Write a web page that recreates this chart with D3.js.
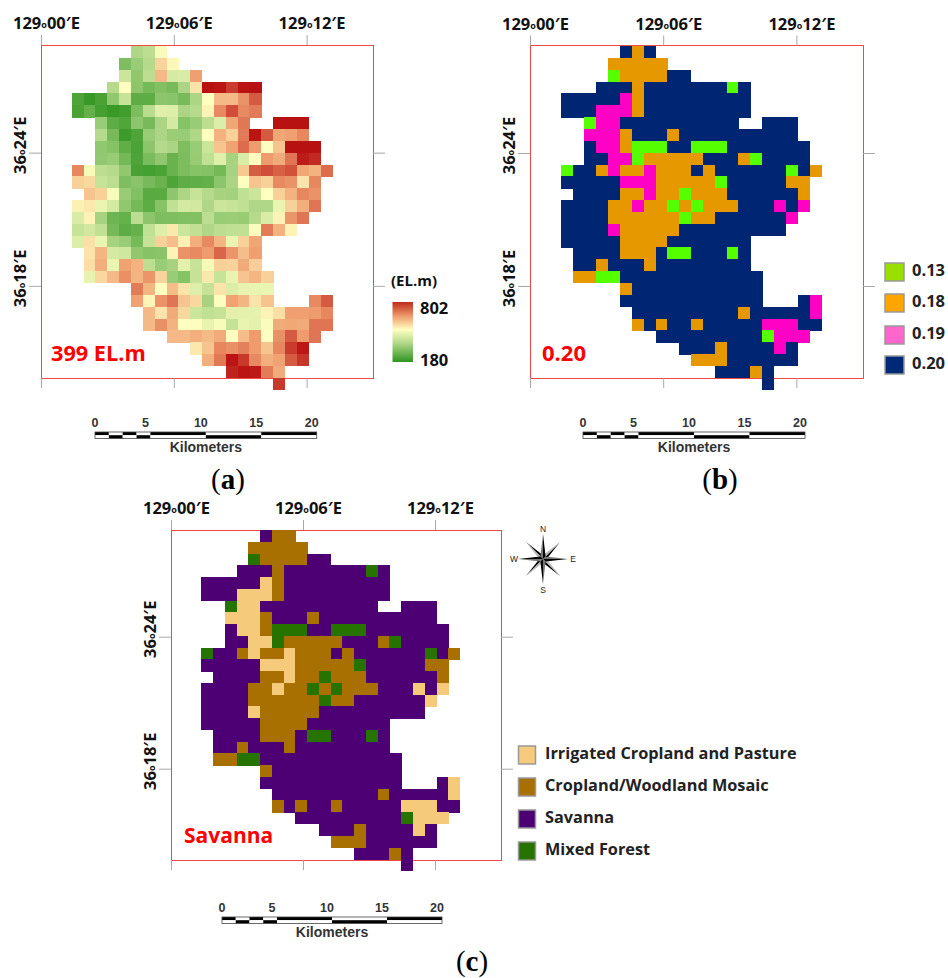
<!DOCTYPE html>
<html>
<head>
<meta charset="utf-8">
<script src="https://cdn.jsdelivr.net/npm/d3@7"></script>
<style>
  html, body { margin: 0; background: #fff; }
  svg { display: block; }
</style>
</head>
<body>
<div id="d3"></div>
<script>
const _ = null;
// elevation (m) per grid cell, 29 rows x 22 columns
const elevationRows = [
  [_,_,_,_,_,325,345,430],
  [_,_,_,_,270,300,335,495,450],
  [_,_,_,_,365,290,345,530,380,385,565],
  [_,_,_,335,440,285,260,275,262,320,475,800,795,730,795,800],
  [215,190,210,290,360,232,232,285,283,262,322,440,530,530,585,680],
  [210,240,205,190,200,268,340,395,390,320,335,455,600,700,600,625],
  [_,_,300,232,218,285,262,320,378,278,300,345,390,555,630,_,_,800,800,800],
  [_,_,335,262,195,215,300,322,302,300,325,440,540,500,625,795,680,555,565,605],
  [_,_,290,278,235,212,285,335,320,270,300,365,515,560,650,570,435,515,800,800,800],
  [_,_,292,300,258,215,265,290,245,268,298,350,395,315,385,440,570,550,635,780,760],
  [605,425,345,335,290,208,205,212,245,268,278,276,258,315,510,675,700,670,695,555,540,650],
  [500,490,360,345,270,283,262,245,215,232,235,240,285,320,440,515,500,600,585,475,605],
  [_,515,500,430,300,275,228,228,288,322,360,335,315,312,350,365,440,500,540,605,585],
  [460,470,410,378,290,260,232,278,350,378,375,325,365,360,350,325,325,410,500,545,635],
  [385,455,315,250,242,345,285,268,270,272,275,345,300,302,298,335,385,455,580,635],
  [360,375,350,260,232,243,350,390,470,365,352,325,345,350,350,432,625,540,455],
  [390,480,410,315,300,260,358,500,525,460,545,600,535,410,500,555],
  [_,475,535,378,372,290,278,283,455,585,600,570,660,580,525,565],
  [_,482,545,412,560,540,345,300,315,400,360,425,500,498,550,503],
  [_,405,490,530,590,535,580,497,300,278,358,470,360,405,515,535,500],
  [_,_,_,_,_,625,535,440,525,475,390,358,475,388,405,408,410],
  [_,_,_,_,_,560,452,585,635,515,490,315,435,560,535,475,515,_,_,_,600,680],
  [_,_,_,_,_,_,530,475,550,490,365,350,358,400,400,402,455,482,565,565,570,605],
  [_,_,_,_,_,_,530,590,540,440,435,405,430,358,408,400,432,550,552,550,635,635],
  [_,_,_,_,_,_,_,_,530,530,545,528,550,438,525,570,435,590,680,570,635],
  [_,_,_,_,_,_,_,_,_,_,470,515,605,590,615,570,515,605,730,790],
  [_,_,_,_,_,_,_,_,_,_,_,545,630,795,735,600,545,560,680,740],
  [_,_,_,_,_,_,_,_,_,_,_,_,_,770,795,785,625,550],
  [_,_,_,_,_,_,_,_,_,_,_,_,_,_,_,_,_,735]
];

// land cover per grid cell: F mixed forest, C cropland/woodland, I irrigated, S savanna
const coverRows = [
  ".....SCS..............",
  "....CCCCC.............",
  "....FCCCCSS...........",
  "...SSSCSSSSSSSFS......",
  "SSSSSICSSSSSSSSS......",
  "SSSIIICSSSSSSSSS......",
  "..FIISSSSSSSSSS..SSS..",
  "..IIICSSSCSSSSSSSSSS..",
  "..SIICFFFSSFFFSSSSSSS.",
  "..SSIIFCCCCCSSSCFSSSS.",
  "FSSCICCICCCSCSSSSSSFSC",
  "SSSSSIIICCCCCFSSSSSCC.",
  ".SSSSCCICCFCCCSSSSSSC.",
  "SSSSCCICCFCFCCCSSSISI.",
  "SSSSCCCCCCFCCSSSSSSI..",
  "SSSSICCCCCSSSSSSSSS...",
  "SSSSSCCCCSSSSSSS......",
  ".SSSSCCCSFFSSSFS......",
  ".SSCSSSCSSSSSSSS......",
  ".CCFFSSSSSSSSSSSS.....",
  ".....CSSSSSSSSSSS.....",
  ".....SSSSSSSSSSSS...SI",
  "......SSSSSSSSSCSSSSSI",
  "......CSCSSCSSSSSIIISS",
  "........SSSSSSSSSFIII.",
  "..........SSSCSSSSIS..",
  "...........CCCSSSSSS..",
  ".............SSSCS....",
  ".................S...."
];
// panel (c) differs from (b) only in the top row
const coverRowsC = [".....SCC.............."].concat(coverRows.slice(1));

const coverKeys = ["F", "C", "I", "S"];
const albedoColors = ["#55ff00", "#e69800", "#ff00c5", "#002673"];
const landuseColors = ["#267300", "#a87000", "#f5ca7a", "#4c0073"];

const albedoLegendKeys = ["0.13", "0.18", "0.19", "0.20"];
const albedoLegendColors = ["#99e000", "#ffa500", "#ff66cc", "#002a78"];
const landuseLegendKeys = ["Irrigated Cropland and Pasture", "Cropland/Woodland Mosaic", "Savanna", "Mixed Forest"];
const landuseLegendColors = ["#f7cb7d", "#a87000", "#4c0073", "#267300"];

const gradientOffsets = [0, 0.3, 0.54, 0.75, 1];
const gradientColors = ["#2f9420", "#abd584", "#ffffc0", "#f0a272", "#c02a1a"];

const lonTicks = [0, 6, 12];
const latTicks = [24, 18];
const scaleKm = [0, 1.25, 2.5, 3.75, 5, 10, 15, 20];
const scaleLabels = [0, 5, 10, 15, 20];

const fontSans = "'Open Sans', 'Noto Sans', sans-serif";
const rows = d3.range(29);
const cols = d3.range(22);

const svg = d3.select("#d3").append("svg").attr("width", 948).attr("height", 978);

const elevationColor = d3
  .scaleLinear()
  .domain([180, 320, 440, 560, 802])
  .range(["#2f9420", "#abd584", "#ffffc0", "#f0a272", "#b81010"]);

function drawPanel(box) {
  const g = svg.append("g").attr("transform", `translate(${box.x},${box.y})`);
  const lon = d3.scaleLinear().domain([0, 15]).range([0, box.w]);
  const lat = d3.scaleLinear().domain([28.85, 13.85]).range([0, box.h]);

  g.append("rect")
    .attr("width", box.w)
    .attr("height", box.h)
    .attr("fill", "none")
    .attr("stroke", "#f04848")
    .attr("stroke-width", 1)
    .attr("shape-rendering", "crispEdges");

  const tickStyle = (a) => {
    a.select(".domain").remove();
    a.selectAll("line").attr("stroke", "#a8a8a8");
  };
  const top = g.append("g").call(d3.axisTop(lon).tickValues(lonTicks).tickSize(10).tickFormat("")).call(tickStyle);
  g.append("g")
    .attr("transform", `translate(0,${box.h})`)
    .call(d3.axisBottom(lon).tickValues(lonTicks).tickSize(10).tickFormat(""))
    .call(tickStyle);
  const left = g.append("g").call(d3.axisLeft(lat).tickValues(latTicks).tickSize(12).tickFormat("")).call(tickStyle);
  g.append("g")
    .attr("transform", `translate(${box.w},0)`)
    .call(d3.axisRight(lat).tickValues(latTicks).tickSize(12).tickFormat(""))
    .call(tickStyle);

  const degree = (text, deg, min, hemi) => {
    text.attr("font-family", fontSans).attr("font-weight", 700).attr("font-size", 16.5).attr("fill", "#111");
    text.append("tspan").text(deg);
    text.append("tspan").attr("font-size", 9).attr("dy", -1).text("o");
    text.append("tspan").attr("dy", 1).text(min + "\u2032" + hemi);
  };
  top.selectAll(".tick").each(function (d) {
    d3.select(this)
      .append("text")
      .attr("y", -16)
      .attr("x", 5)
      .attr("text-anchor", "middle")
      .call(degree, "129", String(d).padStart(2, "0"), "E");
  });
  left.selectAll(".tick").each(function (d) {
    d3.select(this)
      .append("text")
      .attr("transform", "translate(-15,-8) rotate(-90)")
      .attr("text-anchor", "middle")
      .call(degree, "36", d, "E");
  });

  const gx = d3.scaleBand().domain(cols).range([box.gx, box.gx + 22 * box.cell]);
  const gy = d3.scaleBand().domain(rows).range([box.gy, box.gy + 29 * box.cell]);

  g.append("g")
    .attr("shape-rendering", "crispEdges")
    .selectAll("rect")
    .data(box.cells)
    .join("rect")
    .attr("x", (d) => gx(d.c))
    .attr("y", (d) => gy(d.r))
    .attr("width", gx.bandwidth() + 0.4)
    .attr("height", gy.bandwidth() + 0.4)
    .attr("fill", (d) => d.fill);

  g.append("text")
    .attr("x", box.labelX)
    .attr("y", box.h - 17)
    .attr("font-family", fontSans)
    .attr("font-weight", 700)
    .attr("font-size", box.labelSize)
    .attr("fill", "#ff0000")
    .text(box.label);
}

function elevationCells() {
  const out = [];
  elevationRows.forEach((row, r) =>
    row.forEach((v, c) => {
      if (v !== null) out.push({ r, c, fill: elevationColor(v) });
    })
  );
  return out;
}

function coverCells(data, colors) {
  const color = d3.scaleOrdinal().domain(coverKeys).range(colors);
  const out = [];
  data.forEach((row, r) =>
    row.split("").forEach((k, c) => {
      if (k !== ".") out.push({ r, c, fill: color(k) });
    })
  );
  return out;
}

function drawScaleBar(x0, x1, y) {
  const km = d3.scaleLinear().domain([0, 20]).range([x0, x1]);
  const g = svg.append("g");
  const parts = d3.pairs(scaleKm);
  [0, 1].forEach((half) => {
    g.append("g")
      .selectAll("rect")
      .data(parts)
      .join("rect")
      .attr("x", (d) => km(d[0]))
      .attr("y", y + half * 3.2)
      .attr("width", (d) => km(d[1]) - km(d[0]))
      .attr("height", 3.2)
      .attr("fill", (d, i) => ((i + half) % 2 === 0 ? "#000" : "#fff"));
  });
  g.append("rect")
    .attr("x", x0)
    .attr("y", y)
    .attr("width", x1 - x0)
    .attr("height", 6.4)
    .attr("fill", "none")
    .attr("stroke", "#444")
    .attr("stroke-width", 0.8);
  g.selectAll("text.km")
    .data(scaleLabels)
    .join("text")
    .attr("class", "km")
    .attr("x", (d) => km(d) - (d === 0 ? 0 : 5))
    .attr("y", y - 5)
    .attr("text-anchor", "middle")
    .attr("font-family", "'Liberation Sans', Arial, sans-serif")
    .attr("font-weight", 700)
    .attr("font-size", 12.5)
    .attr("fill", "#333")
    .text((d) => d);
  g.append("text")
    .attr("x", km(10))
    .attr("y", y + 20)
    .attr("text-anchor", "middle")
    .attr("font-family", "'Liberation Sans', Arial, sans-serif")
    .attr("font-weight", 700)
    .attr("font-size", 14)
    .attr("fill", "#333")
    .text("Kilometers");
}

function drawCaption(letter, x, y) {
  const t = svg
    .append("text")
    .attr("x", x)
    .attr("y", y)
    .attr("text-anchor", "middle")
    .attr("font-family", "'Liberation Serif', 'Times New Roman', serif")
    .attr("font-size", 29)
    .attr("fill", "#000");
  t.append("tspan").text("(");
  t.append("tspan").attr("font-weight", 700).text(letter);
  t.append("tspan").text(")");
}

function drawLegend(keys, colors, x, ys, w, h, textX, size) {
  const g = svg.append("g");
  g.selectAll("rect")
    .data(keys)
    .join("rect")
    .attr("x", x)
    .attr("y", (d, i) => ys[i])
    .attr("width", w)
    .attr("height", h)
    .attr("fill", (d, i) => colors[i])
    .attr("stroke", "#999")
    .attr("stroke-width", 1.5);
  g.selectAll("text")
    .data(keys)
    .join("text")
    .attr("x", textX)
    .attr("y", (d, i) => ys[i] + h / 2 + size * 0.25)
    .attr("font-family", fontSans)
    .attr("font-weight", 700)
    .attr("font-size", size)
    .attr("fill", "#222")
    .text((d) => d);
}

function drawElevationLegend() {
  const defs = svg.append("defs");
  const grad = defs.append("linearGradient").attr("id", "elev").attr("x1", 0).attr("x2", 0).attr("y1", 1).attr("y2", 0);
  gradientOffsets.forEach((o, i) => {
    grad.append("stop").attr("offset", o).attr("stop-color", gradientColors[i]);
  });
  svg.append("rect").attr("x", 392.5).attr("y", 302).attr("width", 20.5).attr("height", 60).attr("fill", "url(#elev)");
  const txt = [
    ["(EL.m)", 391, 286],
    ["802", 420, 314],
    ["180", 420, 366]
  ];
  svg
    .append("g")
    .selectAll("text")
    .data(txt)
    .join("text")
    .attr("x", (d) => d[1])
    .attr("y", (d) => d[2])
    .attr("font-family", fontSans)
    .attr("font-weight", 700)
    .attr("font-size", (d, i) => (i === 0 ? 15 : 16.5))
    .attr("fill", "#111")
    .text((d) => d[0]);
}

function drawCompass(cx, cy) {
  const g = svg.append("g").attr("transform", `translate(${cx},${cy})`);
  const point = (len, waist, dark) => {
    const p = d3.path();
    p.moveTo(0, -len);
    p.lineTo(dark ? waist : -waist, -waist);
    p.lineTo(0, 0);
    p.closePath();
    return p.toString();
  };
  [45, 135, 225, 315, 0, 90, 180, 270].forEach((angle, i) => {
    const len = i < 4 ? 24 : 25;
    const arm = g.append("g").attr("transform", `rotate(${angle})`);
    arm.append("path").attr("d", point(len, 2.6, true)).attr("fill", "#000");
    arm.append("path").attr("d", point(len, 2.6, false)).attr("fill", i < 4 ? "#bbb" : "#777");
  });
  const labels = [
    ["N", 0, -27],
    ["S", 0, 34],
    ["W", -29, 3],
    ["E", 30, 3]
  ];
  g.selectAll("text")
    .data(labels)
    .join("text")
    .attr("x", (d) => d[1])
    .attr("y", (d) => d[2])
    .attr("text-anchor", "middle")
    .attr("font-family", "'Liberation Sans', Arial, sans-serif")
    .attr("font-size", 8.5)
    .attr("fill", "#222")
    .text((d) => d[0]);
}

drawPanel({ x: 41, y: 45, w: 332, h: 333, gx: 30.7, gy: 1, cell: 11.85, cells: elevationCells(), label: "399 EL.m", labelX: 10, labelSize: 21.7 });
drawPanel({ x: 530, y: 45.5, w: 333, h: 332.5, gx: 30.7, gy: 0.5, cell: 11.85, cells: coverCells(coverRows, albedoColors), label: "0.20", labelX: 12, labelSize: 22 });
drawPanel({ x: 171, y: 530, w: 330, h: 330, gx: 30.3, gy: 0, cell: 11.76, cells: coverCells(coverRowsC, landuseColors), label: "Savanna", labelX: 13, labelSize: 21 });

drawScaleBar(95, 316.7, 432);
drawScaleBar(583, 805, 432);
drawScaleBar(222, 442, 917);

drawCaption("a", 228, 489);
drawCaption("b", 720, 489);
drawCaption("c", 472, 971);

drawElevationLegend();
drawLegend(albedoLegendKeys, albedoLegendColors, 885, [263, 294, 326, 356], 19, 18, 912, 16.5);
drawLegend(landuseLegendKeys, landuseLegendColors, 518.5, [746, 778, 810, 842], 17, 18, 545, 16.3);
drawCompass(543, 559);
</script>
</body>
</html>
